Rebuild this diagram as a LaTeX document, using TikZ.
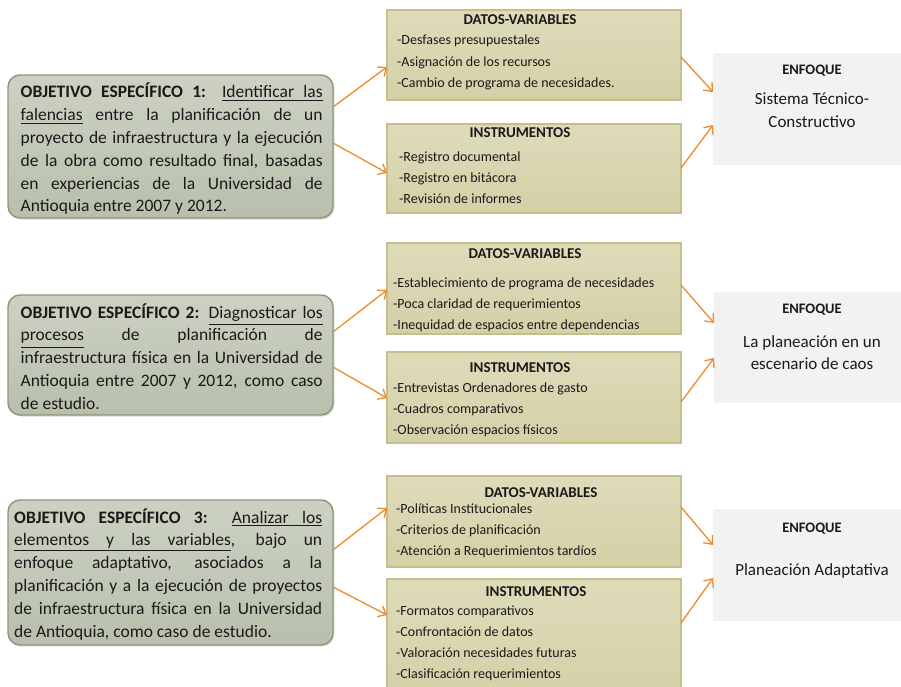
\documentclass[tikz,border=0pt]{standalone}
\usepackage{fontspec}
\setmainfont{Carlito}
\usetikzlibrary{arrows.meta,calc,shadows}

\definecolor{objtop}{HTML}{CCD1C3}
\definecolor{objbot}{HTML}{B9BFAC}
\definecolor{objline}{HTML}{8C977A}
\definecolor{midtop}{HTML}{DEDBBA}
\definecolor{midbot}{HTML}{D4D0A7}
\definecolor{midline}{HTML}{C5C08A}
\definecolor{enffill}{HTML}{F2F2F2}
\definecolor{arrowc}{HTML}{EE8B2E}
\definecolor{txt}{HTML}{1A1A1A}

% underlined word and underlined (stretchable) space; optional arg = depth of the rule
\newcommand\ulw[2][3]{\setbox0\hbox{#2}\rlap{\rule[-#1pt]{\wd0}{0.9pt}}\box0\relax}
\newcommand\ulsp[1][3]{\leaders\hrule height \dimexpr0.9pt-#1pt\relax depth #1pt\hskip\fontdimen2\font plus\fontdimen3\font minus\fontdimen4\font\relax}
\newcommand\jline[1]{\makebox[\linewidth][s]{#1}}

\tikzset{
  objbox/.style={draw=objline, line width=1.4pt, rounded corners=12pt,
    top color=objtop, bottom color=objbot, anchor=north west, outer sep=0pt,
    inner sep=0pt, drop shadow={shadow xshift=1.5pt, shadow yshift=-1.5pt, opacity=0.25}},
  midbox/.style={draw=midline, line width=1.3pt, top color=midtop, bottom color=midbot,
    anchor=north west, outer sep=0pt, inner sep=0pt},
  enfbox/.style={fill=enffill, anchor=north west, outer sep=0pt, inner sep=0pt},
  objtext/.style={anchor=base west, inner sep=0pt, text=txt,
    font=\fontsize{17.5}{22.8}\selectfont},
  midtitle/.style={anchor=base, inner sep=0pt, text=txt,
    font=\bfseries\fontsize{15}{17}\selectfont},
  miditems/.style={anchor=base west, inner sep=0pt, text=txt,
    font=\fontsize{14}{21.3}\selectfont},
  enftitle/.style={anchor=base, inner sep=0pt, text=txt,
    font=\bfseries\fontsize{14.5}{17}\selectfont},
  enftext/.style={anchor=base, inner sep=0pt, text=txt,
    font=\fontsize{17}{22.5}\selectfont},
  arr/.style={draw=arrowc, line width=1.3pt,
    -{Straight Barb[length=7pt, width=12pt, line width=1.3pt]}}
}

\begin{document}
\begin{tikzpicture}[x=1pt, y=-1pt]
\useasboundingbox (0,0) rectangle (901,687);
\fill[white] (0,0) rectangle (901,687);

% ---------- objective boxes ----------
\node[objbox, minimum width=325pt, minimum height=143pt] (obj1) at (8,75) {};
\node[objbox, minimum width=325pt, minimum height=120pt] (obj2) at (8,295) {};
\node[objbox, minimum width=325pt, minimum height=145pt] (obj3) at (8,500) {};

\node[objtext] (t1) at (20.5,98) {\parbox[t]{302pt}{%
\jline{\textbf{OBJETIVO ESPECÍFICO 1:} \ulw{Identificar}\ulsp\ulw{las}}\\
\jline{\ulw{falencias} entre la planificación de un}\\
\jline{proyecto de infraestructura y la ejecución}\\
\jline{de la obra como resultado final, basadas}\\
\jline{en experiencias de la Universidad de}\\
Antioquia entre 2007 y 2012.}};

\node[objtext] (t2) at (20.5,318) {\parbox[t]{302pt}{%
\jline{\textbf{OBJETIVO ESPECÍFICO 2:} \ulw[7]{Diagnosticar}\ulsp[7]\ulw[7]{los}}\\
\jline{\ulw[7]{procesos} de planificación de}\\
\jline{infraestructura física en la Universidad de}\\
\jline{Antioquia entre 2007 y 2012, como caso}\\
de estudio.}};

\node[objtext] (t3) at (14,523) {\parbox[t]{308pt}{%
\jline{\textbf{OBJETIVO ESPECÍFICO 3:} \ulw{Analizar}\ulsp\ulw{los}}\\
\jline{\ulw[5.5]{elementos}\ulsp[5.5]\ulw[5.5]{y}\ulsp[5.5]\ulw[5.5]{las}\ulsp[5.5]\ulw[5.5]{variables}, bajo un}\\
\jline{enfoque adaptativo, asociados a la}\\
\jline{planificación y a la ejecución de proyectos}\\
\jline{de infraestructura física en la Universidad}\\
de Antioquia, como caso de estudio.}};

% ---------- data / instrument boxes ----------
\node[midbox, minimum width=294pt, minimum height=90pt] (dat1) at (387,10) {};
\node[midbox, minimum width=294pt, minimum height=89pt] (ins1) at (387,124) {};
\node[midbox, minimum width=294pt, minimum height=91pt] (dat2) at (387,243) {};
\node[midbox, minimum width=294pt, minimum height=91pt] (ins2) at (387,352) {};
\node[midbox, minimum width=294pt, minimum height=91pt] (dat3) at (387,476) {};
\node[midbox, minimum width=294pt, minimum height=120pt] (ins3) at (387,579) {};

\node[midtitle] (dt1) at (520,25) {DATOS-VARIABLES};
\node[miditems] (di1) at (397,45) {\parbox[t]{280pt}{%
-Desfases presupuestales\\
-Asignación de los recursos\\
-Cambio de programa de necesidades.}};

\node[midtitle] (it1) at (520,138) {INSTRUMENTOS};
\node[miditems] (ii1) at (399,161) {\parbox[t]{280pt}{%
-Registro documental\\
-Registro en bitácora\\
-Revisión de informes}};

\node[midtitle] (dt2) at (525,258) {DATOS-VARIABLES};
\node[miditems] (di2) at (393,287) {\parbox[t]{285pt}{%
-Establecimiento de programa de necesidades\\
-Poca claridad de requerimientos\\
-Inequidad de espacios entre dependencias}};

\node[midtitle] (it2) at (520,372) {INSTRUMENTOS};
\node[miditems] (ii2) at (393,392) {\parbox[t]{285pt}{%
-Entrevistas Ordenadores de gasto\\
-Cuadros comparativos\\
-Observación espacios físicos}};

\node[midtitle] (dt3) at (541,497) {DATOS-VARIABLES};
\node[miditems] (di3) at (396,513) {\parbox[t]{280pt}{%
-Políticas Institucionales\\
-Criterios de planificación\\
-Atención a Requerimientos tardíos}};

\node[midtitle] (it3) at (536,596) {INSTRUMENTOS};
\node[miditems] (ii3) at (396,615) {\parbox[t]{280pt}{%
-Formatos comparativos\\
-Confrontación de datos\\
-Valoración necesidades futuras\\
-Clasificación requerimientos}};

% ---------- approach boxes ----------
\node[enfbox, minimum width=195pt, minimum height=112pt] (enf1) at (713,53) {};
\node[enfbox, minimum width=195pt, minimum height=111pt] (enf2) at (714,292) {};
\node[enfbox, minimum width=195pt, minimum height=112pt] (enf3) at (713,509) {};

\node[enftitle] (et1) at (812,75) {ENFOQUE};
\node[enftext] (ex1) at (812,105) {\parbox[t]{190pt}{\centering Sistema Técnico-\\Constructivo}};
\node[enftitle] (et2) at (812,313) {ENFOQUE};
\node[enftext] (ex2) at (812,347) {\parbox[t]{190pt}{\centering La planeación en un\\escenario de caos}};
\node[enftitle] (et3) at (812,532) {ENFOQUE};
\node[enftext] (ex3) at (812,575) {\parbox[t]{190pt}{\centering Planeación Adaptativa}};

% ---------- connectors ----------
\draw[arr] ($(obj1.north east)+(0,32)$) -- ($(dat1.north west)+(0,57)$);
\draw[arr] ($(obj1.north east)+(0,68)$) -- ($(ins1.north west)+(0,49)$);
\draw[arr] ($(obj2.north east)+(0,37)$) -- ($(dat2.north west)+(0,47)$);
\draw[arr] ($(obj2.north east)+(0,72)$) -- ($(ins2.north west)+(0,46)$);
\draw[arr] ($(obj3.north east)+(0,50)$) -- ($(dat3.north west)+(0,32)$);
\draw[arr] ($(obj3.north east)+(0,87)$) -- ($(ins3.north west)+(0,36)$);

\draw[arr] ($(dat1.north east)+(0,47)$) -- ($(enf1.north west)+(0,39)$);
\draw[arr] ($(ins1.north east)+(0,44)$) -- ($(enf1.north west)+(0,72)$);
\draw[arr] ($(dat2.north east)+(0,42)$) -- ($(enf2.north west)+(0,31)$);
\draw[arr] ($(ins2.north east)+(0,50)$) -- ($(enf2.north west)+(0,66)$);
\draw[arr] ($(dat3.north east)+(0,31)$) -- ($(enf3.north west)+(0,36)$);
\draw[arr] ($(ins3.north east)+(0,44)$) -- ($(enf3.north west)+(0,69)$);
\end{tikzpicture}
\end{document}
